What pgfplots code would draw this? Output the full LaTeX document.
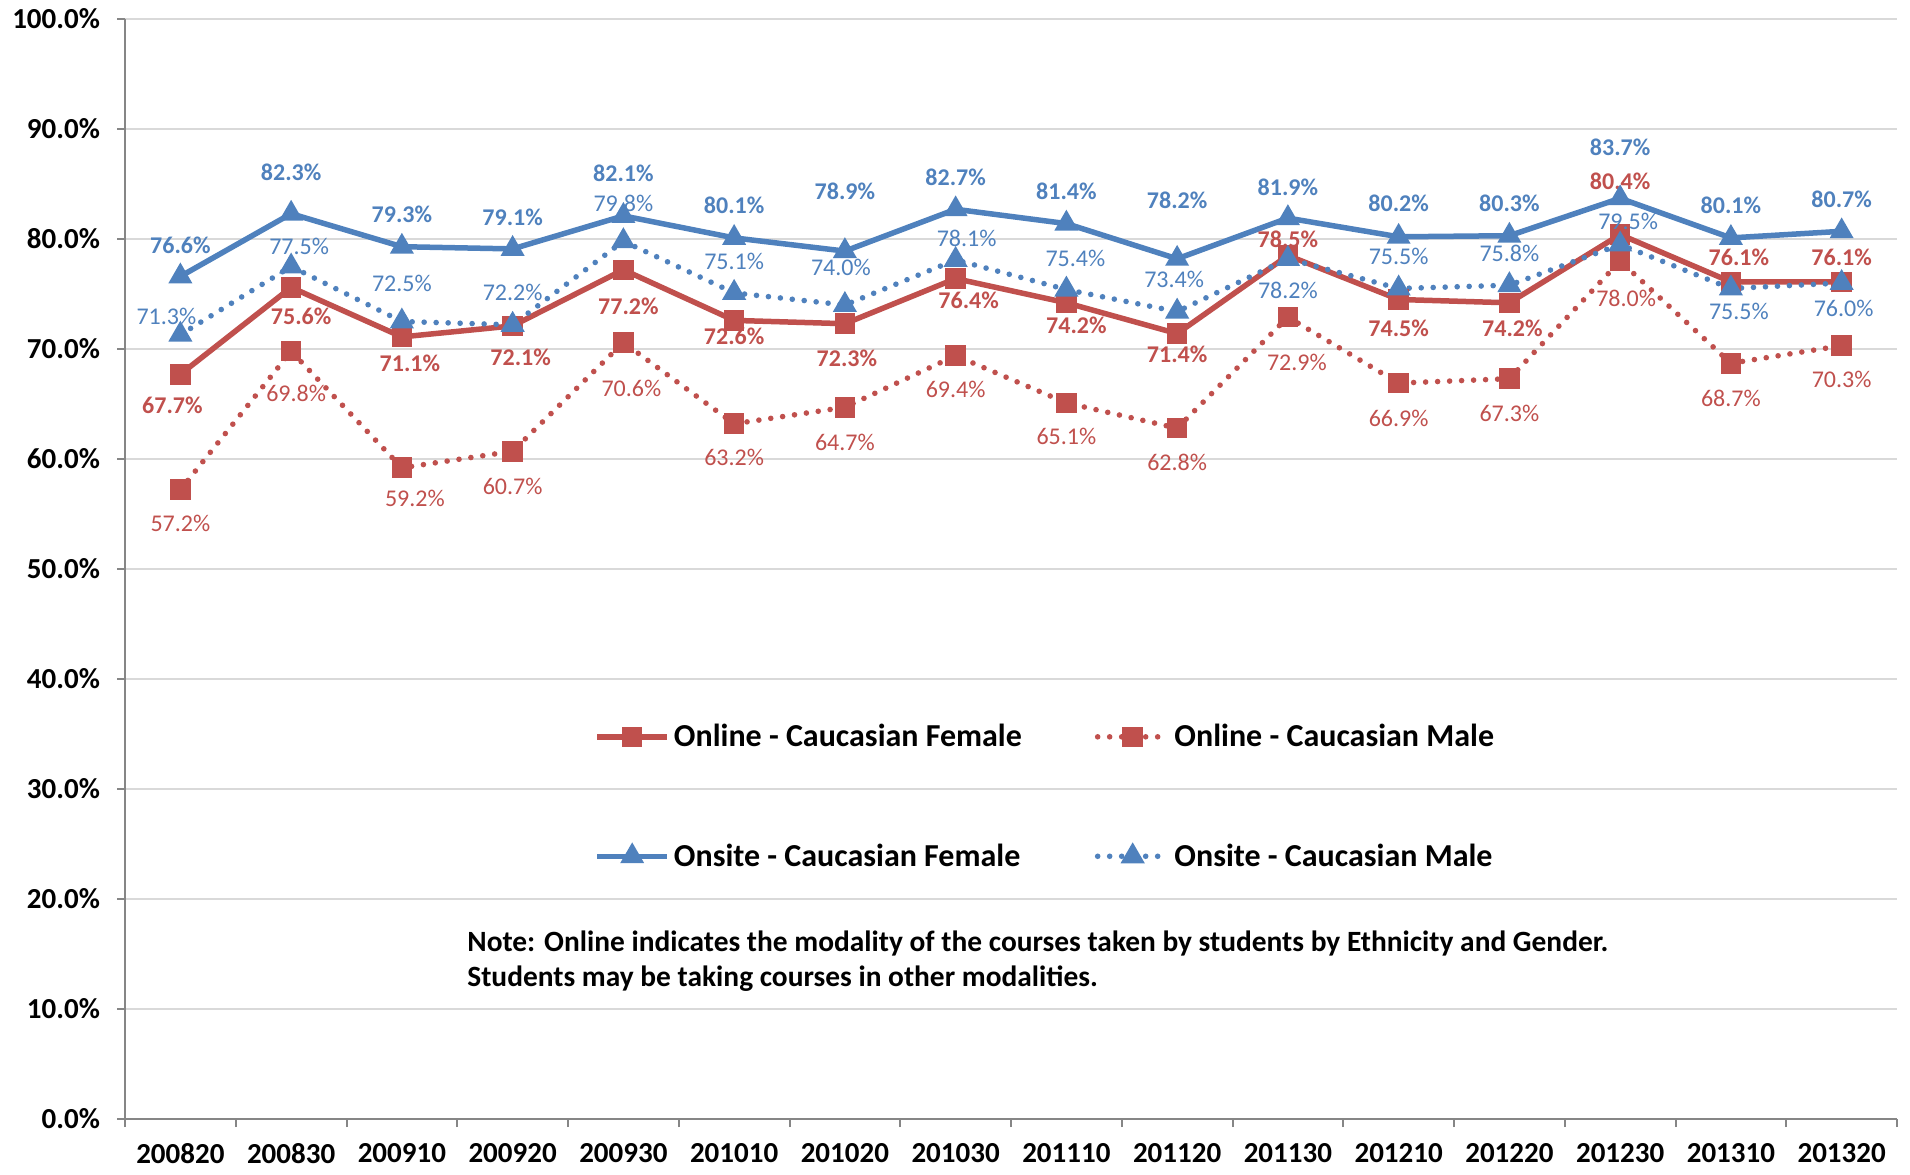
\documentclass[border=0pt]{standalone}
\usepackage{fontspec}
\setmainfont{Carlito}
\usepackage{pgfplots}
\pgfplotsset{compat=1.18}
\usepackage{pgfplotstable}

\definecolor{cred}{HTML}{C0504D}
\definecolor{cblue}{HTML}{4F81BD}
\definecolor{axgray}{HTML}{868686}
\definecolor{gridgray}{HTML}{D9D9D9}

% x = category index, y = value (%), dx/dy = label offset in image px
\pgfplotstableread{
x y dx dy
0 67.7 -8 -31
1 75.6 10 -29
2 71.1 8 -26
3 72.1 8 -31
4 77.2 5 -37
5 72.6 0 -16
6 72.3 2 -35
7 76.4 13 -22
8 74.2 10 -23
9 71.4 0 -21
10 78.5 0 16
11 74.5 0 -29
12 74.2 3 -26
13 80.4 0 53
14 76.1 8 25
15 76.1 0 25
}\onF
\pgfplotstableread{
x y dx dy
0 57.2 0 -34
1 69.8 5 -42
2 59.2 13 -31
3 60.7 0 -35
4 70.6 8 -46
5 63.2 0 -34
6 64.7 0 -35
7 69.4 0 -34
8 65.1 0 -34
9 62.8 0 -34
10 72.9 9 -45
11 66.9 0 -35
12 67.3 0 -35
13 78.0 6 -37
14 68.7 0 -35
15 70.3 0 -34
}\onM
\pgfplotstableread{
x y dx dy
0 76.6 0 31
1 82.3 0 41
2 79.3 0 32
3 79.1 0 32
4 82.1 0 43
5 80.1 0 33
6 78.9 0 60
7 82.7 0 32
8 81.4 0 32
9 78.2 0 58
10 81.9 0 31
11 80.2 0 33
12 80.3 0 32
13 83.7 0 51
14 80.1 0 33
15 80.7 0 32
}\osF
\pgfplotstableread{
x y dx dy
0 71.3 -14 18
1 77.5 8 20
2 72.5 0 38
3 72.2 0 32
4 79.8 0 38
5 75.1 0 31
6 74.0 -4 38
7 78.1 11 21
8 75.4 9 31
9 73.4 -3 32
10 78.2 0 -32
11 75.5 0 32
12 75.8 0 32
13 79.5 8 23
14 75.5 8 -23
15 76.0 2 -25
}\osM

\pgfplotsset{
  /pgf/number format/assume math mode=true,
  lbl/.style={
    visualization depends on={\thisrow{dx}\as\dx},
    visualization depends on={\thisrow{dy}\as\dy},
    nodes near coords={\pgfmathprintnumber[fixed,fixed zerofill,precision=1]{\pgfplotspointmeta}\%},
    every node near coord/.append style={anchor=center, inner sep=0pt,
      xshift=\dx*0.5pt, yshift=\dy*0.5pt, text=#1},
  },
}

\begin{document}
\begin{tikzpicture}
\path[use as bounding box] (0,0) rectangle (955pt,587pt);
\begin{axis}[
  at={(62.5pt,27.5pt)}, anchor=south west,
  scale only axis, width=886pt, height=550pt,
  clip=false,
  xmin=-0.5, xmax=15.5, ymin=0, ymax=100,
  axis x line*=bottom, axis y line*=left,
  axis line style={draw=axgray, line width=1pt, -},
  tick align=outside, major tick length=4pt,
  tick style={draw=axgray, line width=1pt},
  xtick={-0.5,0.5,...,15.5}, xticklabels={},
  extra x ticks={0,1,...,15},
  extra x tick labels={200820,200830,200910,200920,200930,201010,201020,201030,201110,201120,201130,201210,201220,201230,201310,201320},
  extra x tick style={major tick length=0pt, grid=none},
  ytick={0,10,...,100},
  yticklabel={\pgfmathprintnumber[fixed,fixed zerofill,precision=1]{\tick}\%},
  ymajorgrids, grid style={draw=gridgray, line width=0.7pt},
  ticklabel style={font=\bfseries\fontsize{14.5}{17}\selectfont, text=black},
  xticklabel style={yshift=-8.5pt},
  yticklabel style={xshift=-5pt},
  legend columns=2,
  legend cell align=left,
  legend style={draw=none, fill=none, at={(rel axis cs:0.2647,0.363)}, anchor=north west,
    font=\bfseries\fontsize{16}{19}\selectfont, inner sep=0pt, row sep=43pt,
    /tikz/every even column/.append style={column sep=34.5pt}},
  legend image code/.code={\draw[mark repeat=2,mark phase=2] plot coordinates {(0pt,0pt) (17.5pt,0pt) (35pt,0pt)};},
]
\addplot[cred, line width=2.75pt, mark=square*, mark size=3.75pt, mark options={solid},
  lbl=cred, every node near coord/.append style={font=\bfseries\fontsize{12}{14}\selectfont}]
  table[x=x,y=y] {\onF};
\addlegendentry{Online - Caucasian Female}
\addplot[cred, line width=2.8pt, line cap=round, dash pattern=on 0pt off 6pt, mark=square*, mark size=3.75pt, mark options={solid},
  lbl=cred, every node near coord/.append style={font=\fontsize{12}{14}\selectfont}]
  table[x=x,y=y] {\onM};
\addlegendentry{Online - Caucasian Male}
\addplot[cblue, line width=2.75pt, mark=triangle*, mark size=4.2pt, mark options={solid},
  lbl=cblue, every node near coord/.append style={font=\bfseries\fontsize{12}{14}\selectfont}]
  table[x=x,y=y] {\osF};
\addlegendentry{Onsite - Caucasian Female}
\addplot[cblue, line width=2.8pt, line cap=round, dash pattern=on 0pt off 6pt, mark=triangle*, mark size=4.2pt, mark options={solid},
  lbl=cblue, every node near coord/.append style={font=\fontsize{12}{14}\selectfont}]
  table[x=x,y=y] {\osM};
\addlegendentry{Onsite - Caucasian Male}
\node[anchor=base west, inner sep=0pt, font=\bfseries\fontsize{14.7}{17}\selectfont] at (rel axis cs:0.193,0.1527)
  {Note: Online indicates the modality of the courses taken by students by Ethnicity and Gender.};
\node[anchor=base west, inner sep=0pt, font=\bfseries\fontsize{14.7}{17}\selectfont] at (rel axis cs:0.193,0.1209)
  {Students may be taking courses in other modalities.};
\end{axis}
\end{tikzpicture}
\end{document}
